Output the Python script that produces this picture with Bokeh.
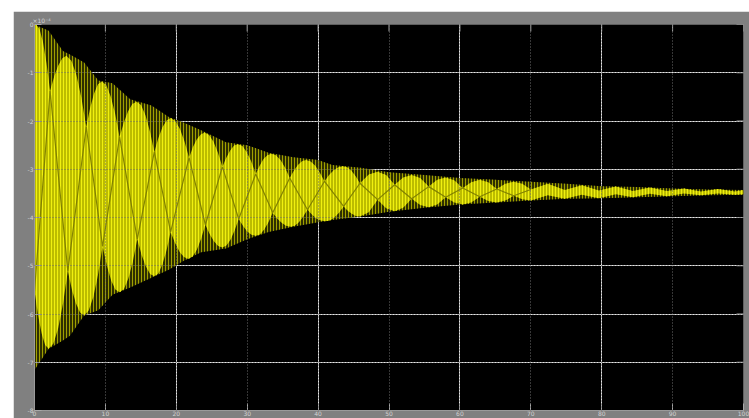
import math
from bokeh.plotting import figure
from bokeh.models import FixedTicker, LinearAxis, Grid
from bokeh.embed import file_html
from bokeh.resources import INLINE

# ---- data (signal values in units of 1e-4) ----
# outer envelope of the oscillation
env_t = [0, 2, 4, 5, 7, 9, 11, 13.5, 16.5, 19, 21, 23.5, 27, 30, 33, 36.5, 40, 42, 46,
         50, 55, 60, 65, 70, 75, 80, 85, 90, 95, 100]
env_hi = [0.0, -0.13, -0.55, -0.62, -0.79, -1.16, -1.22, -1.55, -1.68, -1.92, -2.03, -2.19,
          -2.44, -2.50, -2.66, -2.75, -2.81, -2.91, -2.97,
          -3.06, -3.12, -3.18, -3.22, -3.26, -3.30, -3.35, -3.37, -3.40, -3.42, -3.43]
env_lo = [-7.16, -6.72, -6.55, -6.45, -6.03, -5.92, -5.60, -5.45, -5.25, -5.08, -4.90, -4.72,
          -4.64, -4.45, -4.30, -4.19, -4.10, -4.05, -3.98,
          -3.88, -3.80, -3.73, -3.69, -3.65, -3.61, -3.60, -3.58, -3.56, -3.54, -3.53]

# dense bright band: upper boundary (rounded lobes with cusps between them)
hi_t = [0.0, 0.2, 0.7, 1.2, 1.7, 2.2,
        2.775, 3.35, 3.925, 4.5, 5.2, 5.9, 6.6, 7.3,
        7.85, 8.4, 8.95, 9.5, 10.125, 10.75, 11.375, 12.0,
        12.6, 13.2, 13.8, 14.4, 15.025, 15.65, 16.275, 16.9,
        17.475, 18.05, 18.625, 19.2, 19.85, 20.5, 21.15, 21.8,
        22.35, 22.9, 23.45, 24.0, 24.625, 25.25, 25.875, 26.5,
        27.05, 27.6, 28.15, 28.7, 29.325, 29.95, 30.575, 31.2,
        31.75, 32.3, 32.85, 33.4, 34.05, 34.7, 35.35, 36.0,
        36.575, 37.15, 37.725, 38.3, 38.95, 39.6, 40.25, 40.9,
        41.55, 42.2, 42.85, 43.5, 44.1, 44.7, 45.3, 45.9,
        47.15, 48.4, 49.6, 50.8, 52.0, 53.2, 54.4, 55.6, 56.8, 58.0, 59.2, 60.4,
        61.6, 62.8, 64.0, 65.2, 66.4, 67.6, 68.8, 70.0,
        72.4, 74.8, 77.2, 79.6, 82.0, 84.4, 86.8, 89.2, 91.6, 94.0, 96.4, 98.8, 100]
hi_v = [-0.02, 0.0, -0.09, -0.37, -0.81, -1.38,
        -1.08, -0.85, -0.70, -0.65, -0.75, -1.04, -1.51, -2.12,
        -1.73, -1.43, -1.24, -1.18, -1.26, -1.49, -1.85, -2.33,
        -2.03, -1.80, -1.65, -1.60, -1.67, -1.88, -2.21, -2.64,
        -2.35, -2.13, -1.99, -1.94, -2.00, -2.16, -2.42, -2.76,
        -2.54, -2.38, -2.28, -2.24, -2.29, -2.43, -2.66, -2.95,
        -2.76, -2.61, -2.51, -2.48, -2.52, -2.65, -2.84, -3.10,
        -2.93, -2.79, -2.71, -2.68, -2.71, -2.81, -2.97, -3.18,
        -3.03, -2.91, -2.835, -2.81, -2.84, -2.93, -3.07, -3.25,
        -3.12, -3.02, -2.96, -2.94, -2.96, -3.03, -3.145, -3.29,
        -3.11, -3.05, -3.12, -3.32, -3.17, -3.12, -3.18, -3.36, -3.22, -3.17, -3.23, -3.39,
        -3.27, -3.22, -3.27, -3.41, -3.30, -3.26, -3.30, -3.42,
        -3.30, -3.43, -3.33, -3.44, -3.36, -3.45, -3.38, -3.45, -3.40, -3.46, -3.41, -3.46, -3.43]
# dense bright band: lower boundary
lo_t = [0.0, 0.5, 1.0, 1.5, 2.0,
        2.675, 3.35, 4.025, 4.7, 5.275, 5.85, 6.425, 7.0,
        7.65, 8.3, 8.95, 9.6, 10.2, 10.8, 11.4, 12.0,
        12.625, 13.25, 13.875, 14.5, 15.1, 15.7, 16.3, 16.9,
        17.475, 18.05, 18.625, 19.2, 19.825, 20.45, 21.075, 21.7,
        22.3, 22.9, 23.5, 24.1, 24.7, 25.3, 25.9, 26.5,
        27.075, 27.65, 28.225, 28.8, 29.4, 30.0, 30.6, 31.2,
        31.8, 32.4, 33.0, 33.6, 34.225, 34.85, 35.475, 36.1,
        36.7, 37.3, 37.9, 38.5, 39.125, 39.75, 40.375, 41.0,
        41.65, 42.3, 42.95, 43.6, 44.175, 44.75, 45.325, 45.9,
        47.15, 48.4, 49.6, 50.8, 52.0, 53.2, 54.4, 55.6, 56.8, 58.0, 59.2, 60.4,
        61.6, 62.8, 64.0, 65.2, 66.4, 67.6, 68.8, 70.0,
        72.4, 74.8, 77.2, 79.6, 82.0, 84.4, 86.8, 89.2, 91.6, 94.0, 96.4, 98.8, 100]
lo_v = [-5.52, -6.02, -6.40, -6.64, -6.72,
        -6.61, -6.29, -5.78, -5.11, -5.49, -5.78, -5.97, -6.03,
        -5.93, -5.65, -5.19, -4.60, -4.99, -5.30, -5.49, -5.55,
        -5.48, -5.26, -4.91, -4.45, -4.77, -5.01, -5.17, -5.22,
        -5.16, -4.97, -4.68, -4.30, -4.53, -4.71, -4.82, -4.86,
        -4.81, -4.67, -4.44, -4.15, -4.34, -4.49, -4.59, -4.62,
        -4.58, -4.46, -4.27, -4.03, -4.17, -4.29, -4.36, -4.38,
        -4.35, -4.25, -4.10, -3.90, -4.02, -4.11, -4.17, -4.19,
        -4.17, -4.10, -3.98, -3.84, -3.94, -4.02, -4.06, -4.08,
        -4.06, -4.00, -3.90, -3.77, -3.86, -3.92, -3.97, -3.98,
        -3.89, -3.63, -3.81, -3.87, -3.80, -3.61, -3.74, -3.79, -3.73, -3.58, -3.69, -3.73,
        -3.69, -3.57, -3.66, -3.69, -3.65, -3.55, -3.62, -3.65,
        -3.54, -3.61, -3.53, -3.60, -3.52, -3.58, -3.51, -3.56, -3.50, -3.54, -3.50, -3.53, -3.52]
# interior crossing trace (alternates between lower and upper cusps)
cross_t = [0.0, 2.2, 4.7, 7.3, 9.6, 12.0, 14.5, 16.9, 19.2, 21.8, 24.1, 26.5, 28.8, 31.2,
           33.6, 36.0, 38.5, 40.9, 43.6, 45.9, 48.4, 50.8, 53.2, 55.6, 58.0, 60.4, 62.8,
           65.2, 67.6, 70.0]
cross_v = [-5.52, -1.38, -5.11, -2.12, -4.60, -2.33, -4.45, -2.64, -4.30, -2.76, -4.15, -2.95,
           -4.03, -3.10, -3.90, -3.18, -3.84, -3.25, -3.77, -3.29, -3.63, -3.32, -3.61, -3.36,
           -3.58, -3.39, -3.57, -3.41, -3.55, -3.42]

x_ticks = [0, 10, 20, 30, 40, 50, 60, 70, 80, 90, 100]
x_tick_labels = ["0", "10", "20", "30", "40", "50", "60", "70", "80", "90", "100"]
y_ticks = [0, -1, -2, -3, -4, -5, -6, -7, -8]
y_tick_labels = ["0", "-1", "-2", "-3", "-4", "-5", "-6", "-7", "-8"]
exponent_label = "×10⁻⁴"

FONT = "DejaVu Sans"
LBL = "#d2d2d2"
TICK = "#a8a8a8"

p = figure(width=736, height=407, margin=(11, 0, 0, 13),
           x_range=(x_ticks[0], x_ticks[-1]), y_range=(y_ticks[-1], y_ticks[0]),
           output_backend="svg", toolbar_location=None,
           background_fill_color="black", border_fill_color="#808080",
           min_border_left=21, min_border_top=13, min_border_bottom=6, min_border_right=6,
           outline_line_color=None, x_axis_location=None, y_axis_location=None,
           title=exponent_label)

p.title.text_font = FONT
p.title.text_font_size = "6px"
p.title.text_font_style = "normal"
p.title.text_color = LBL
p.title.align = "left"
p.title.offset = -2
p.title.standoff = 1

# sparse outer part of the oscillation
p.varea(x=env_t, y1=env_lo, y2=env_hi, fill_color="#2e2e00",
        hatch_pattern="vertical_line", hatch_color="#a0a000", hatch_weight=1, hatch_scale=3)
# dense bright band
p.patch(x=hi_t + lo_t[::-1], y=hi_v + lo_v[::-1], fill_color="#bcbc00", line_color=None,
        hatch_pattern="vertical_line", hatch_color="#f0f010", hatch_weight=1, hatch_scale=3)
# interior crossing trace
p.line(x=cross_t, y=cross_v, line_color="#7a7a00", line_width=1.2, line_alpha=0.9)

def make_axis(loc, ticks, names):
    ax = LinearAxis()
    ax.ticker = FixedTicker(ticks=ticks)
    ax.major_label_overrides = {t: n for t, n in zip(ticks, names)}
    ax.minor_tick_line_color = None
    ax.major_tick_in = 7
    ax.major_tick_out = 0
    ax.major_tick_line_color = TICK
    ax.axis_line_color = "#9a9a9a"
    ax.major_label_text_font = FONT
    ax.major_label_text_color = LBL
    ax.major_label_text_font_size = "6px"
    ax.major_label_standoff = 1 if loc == "left" else 0
    p.add_layout(ax, loc)
    return ax

make_axis("left", y_ticks, y_tick_labels)
make_axis("below", x_ticks, x_tick_labels)

# inward tick marks along the top and right edges of the frame
p.scatter(x=x_ticks, y=[y_ticks[0]] * len(x_ticks), marker="dash", angle=math.pi / 2,
          size=14, line_color=TICK, line_width=1)
p.scatter(x=[x_ticks[-1]] * len(y_ticks), y=y_ticks, marker="dash",
          size=14, line_color=TICK, line_width=1)

for dim, ticks in ((0, x_ticks), (1, y_ticks)):
    g = Grid(dimension=dim, ticker=FixedTicker(ticks=ticks), grid_line_color="#6c6c6c",
             grid_line_dash="1 2", grid_line_width=1, level="overlay")
    p.add_layout(g)

open("out.html", "w").write(file_html(p, INLINE))
